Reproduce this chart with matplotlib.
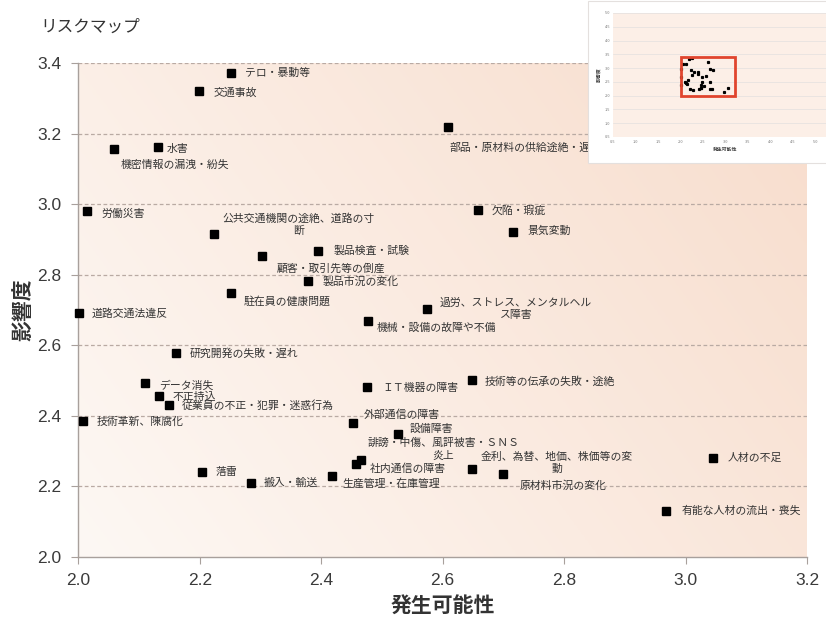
import numpy as np
import matplotlib
matplotlib.use("Agg")
import matplotlib.pyplot as plt
from matplotlib.patches import Rectangle

plt.rcParams['font.family'] = ['Noto Sans CJK JP', 'DejaVu Sans']

# データ（発生可能性, 影響度）
risques = [
    "テロ・暴動等", "交通事故", "部品・原材料の供給途絶・遅延", "機密情報の漏洩・紛失",
    "水害", "労働災害", "公共交通機関の途絶、道路の寸\n断", "製品検査・試験",
    "顧客・取引先等の倒産", "製品市況の変化", "駐在員の健康問題", "道路交通法違反",
    "過労、ストレス、メンタルヘル\nス障害", "機械・設備の故障や不備", "研究開発の失敗・遅れ",
    "データ消失", "不正持込", "従業員の不正・犯罪・迷惑行為", "技術革新、陳腐化",
    "ＩＴ機器の障害", "技術等の伝承の失敗・途絶", "外部通信の障害", "設備障害",
    "誹謗・中傷、風評被害・ＳＮＳ\n炎上", "社内通信の障害", "落雷", "搬入・輸送",
    "生産管理・在庫管理", "金利、為替、地価、株価等の変\n動", "原材料市況の変化",
    "人材の不足", "有能な人材の流出・喪失", "欠陥・瑕疵", "景気変動",
]
probabilite = [
    2.251, 2.199, 2.609, 2.059, 2.131, 2.015, 2.223, 2.395,
    2.303, 2.378, 2.251, 2.001, 2.574, 2.477, 2.161, 2.110,
    2.133, 2.149, 2.007, 2.475, 2.648, 2.453, 2.526, 2.465,
    2.457, 2.204, 2.285, 2.417, 2.648, 2.700, 3.045, 2.967,
    2.659, 2.716,
]
impact = [
    3.372, 3.320, 3.218, 3.156, 3.162, 2.979, 2.916, 2.868,
    2.852, 2.782, 2.748, 2.692, 2.702, 2.668, 2.579, 2.492,
    2.457, 2.429, 2.386, 2.482, 2.501, 2.378, 2.347, 2.274,
    2.264, 2.239, 2.209, 2.229, 2.250, 2.234, 2.281, 2.130,
    2.983, 2.920,
]
x_ticks = [2.0, 2.2, 2.4, 2.6, 2.8, 3.0, 3.2]
y_ticks = [2.0, 2.2, 2.4, 2.6, 2.8, 3.0, 3.2, 3.4]

# Décalage des étiquettes (pixels : dx vers la droite, dy vers le bas, alignement)
decalages = [
    (14, 0, 'left'), (14, 1, 'left'), (1, 20, 'left'), (6, 16, 'left'),
    (9, 2, 'left'), (14, 2, 'left'), (85, -9, 'center'), (15, 0, 'left'),
    (14, 12, 'left'), (15, 1, 'left'), (13, 8, 'left'), (13, 1, 'left'),
    (89, 0, 'center'), (9, 7, 'left'), (14, 1, 'left'), (14, 2, 'left'),
    (13, 1, 'left'), (13, 0, 'left'), (14, 1, 'left'), (16, 1, 'left'),
    (13, 2, 'left'), (10, -9, 'left'), (12, -6, 'left'), (83, -11, 'center'),
    (14, 5, 'left'), (13, 0, 'left'), (12, 0, 'left'), (11, 7, 'left'),
    (85, -6, 'center'), (16, 11, 'left'), (15, 0, 'left'), (16, 0, 'left'),
    (13, 1, 'left'), (14, -2, 'left'),
]

fig = plt.figure(figsize=(8.26, 6.21), dpi=100)
ax = fig.add_axes([0.0948, 0.1035, 0.8822, 0.795])

# Fond dégradé pêche
nx, ny = 200, 200
gx, gy = np.meshgrid(np.linspace(0, 1, nx), np.linspace(0, 1, ny))
t = np.clip(0.7 * gx + 0.35 * gy, 0, 1)
c0 = np.array([253, 248, 244]) / 255
c1 = np.array([248, 222, 206]) / 255
img = c0 + (c1 - c0) * t[..., None]
ax.imshow(img, extent=[2.0, 3.2, 2.0, 3.4], origin='lower', aspect='auto', zorder=0)

for y in y_ticks[1:]:
    ax.axhline(y, color='#b9aaa3', lw=0.9, ls=(0, (3, 2)), zorder=1)

ax.plot(probabilite, impact, 's', color='black', markersize=6.3, zorder=3, clip_on=False)

for nom, px, py, (dx, dy, ha) in zip(risques, probabilite, impact, decalages):
    ax.annotate(nom, (px, py), xytext=(dx, -dy), textcoords='offset pixels',
                ha=ha, va='center', multialignment='center', fontsize=7.8,
                color='#333333', linespacing=1.25, annotation_clip=False, zorder=4)

ax.set_xlim(2.0, 3.2)
ax.set_ylim(2.0, 3.4)
ax.set_xticks(x_ticks)
ax.set_yticks(y_ticks)
ax.set_xticklabels([f"{v:.1f}" for v in x_ticks], fontfamily='Liberation Sans')
ax.set_yticklabels([f"{v:.1f}" for v in y_ticks], fontfamily='Liberation Sans')
ax.tick_params(length=5, color='#a8a09c', labelsize=12.5, labelcolor='#3a3a3a', pad=7)
for s in ['top', 'right']:
    ax.spines[s].set_visible(False)
for s in ['left', 'bottom']:
    ax.spines[s].set_color('#a8a09c')
    ax.spines[s].set_linewidth(1.0)

ax.set_xlabel("発生可能性", fontsize=15, fontweight='bold', color='#333333', va='center')
ax.xaxis.set_label_coords(0.5, -0.1)
ax.set_ylabel("影響度", fontsize=15, fontweight='bold', color='#333333', va='center')
ax.yaxis.set_label_coords(-0.076, 0.5)

fig.text(40 / 826, 1 - 27 / 621, "リスクマップ", fontsize=12, color='#333333', va='center')

# Vignette en haut à droite
panneau = Rectangle((0.712, 0.737), 0.29, 0.262, transform=fig.transFigure,
                    facecolor='white', edgecolor='#e4e0de', lw=0.8, zorder=5)
fig.patches.append(panneau)

axi = fig.add_axes([613 / 826, 1 - 137 / 621, 225 / 826, 124 / 621], zorder=6)
axi.set_facecolor('#fcefe7')
axi.set_xlim(0.5, 5.5)
axi.set_ylim(0.5, 5.0)
axi.set_xticks(np.arange(0.5, 5.1, 0.5))
axi.set_yticks(np.arange(0.5, 5.1, 0.5))
axi.tick_params(length=0, labelsize=2.8, labelcolor='#777777', pad=2)
axi.grid(axis='y', color='#dddddd', lw=0.4)
axi.set_axisbelow(True)
for s in axi.spines.values():
    s.set_visible(False)
axi.plot(probabilite, impact, 's', color='black', markersize=1.3)
x0, x1 = ax.get_xlim()
y0, y1 = ax.get_ylim()
axi.add_patch(Rectangle((x0, y0), x1 - x0, y1 - y0, fill=False,
                        edgecolor='#e0452e', lw=2.0, zorder=5))
axi.set_xlabel("発生可能性", fontsize=3.5, fontweight='bold', color='#444444', labelpad=2)
axi.set_ylabel("影響度", fontsize=3.5, fontweight='bold', color='#444444', labelpad=2)

fig.savefig("out.png", dpi=100)
